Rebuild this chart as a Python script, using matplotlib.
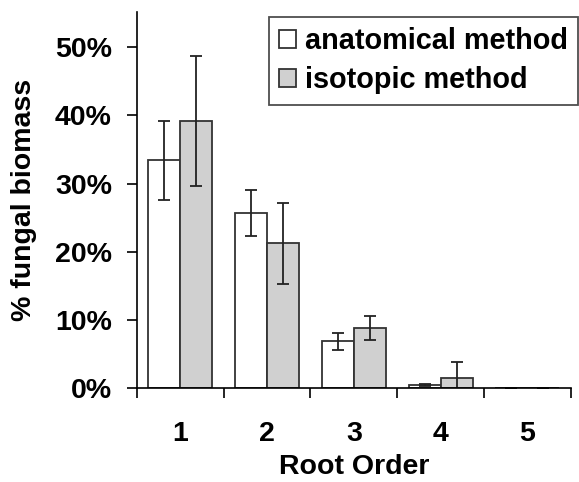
import matplotlib
matplotlib.use("Agg")
import matplotlib.pyplot as plt
import numpy as np
from matplotlib.ticker import FuncFormatter, FixedLocator

plt.rcParams['font.family'] = ['Liberation Sans', 'DejaVu Sans']
plt.rcParams['font.weight'] = 'bold'

# Data (percent fungal biomass by root order)
orders = ["1", "2", "3", "4", "5"]
anatomical = [33.4, 25.7, 6.8, 0.4, 0.0]
anatomical_err = [5.8, 3.4, 1.3, 0.2, 0.0]
isotopic = [39.2, 21.2, 8.75, 1.5, 0.0]
isotopic_err = [9.6, 6.0, 1.8, 2.3, 0.0]

fig = plt.figure(figsize=(5.79, 4.82), dpi=100)
ax = fig.add_axes([0.2366, 0.1956, 0.7491, 0.7794])

x = np.arange(len(orders))
w = 0.37
edge = '#333333'
ax.bar(x - w / 2, anatomical, w, color='white', edgecolor=edge, linewidth=1.3,
       label='anatomical method')
ax.bar(x + w / 2, isotopic, w, color='#d0d0d0', edgecolor=edge, linewidth=1.3,
       label='isotopic method')
ax.errorbar(x - w / 2, anatomical, yerr=anatomical_err, fmt='none', ecolor='#222222',
            elinewidth=1.3, capsize=4, capthick=1.3)
ax.errorbar(x + w / 2, isotopic, yerr=isotopic_err, fmt='none', ecolor='#222222',
            elinewidth=1.3, capsize=4, capthick=1.3)

ax.set_xlim(-0.5, len(orders) - 0.5)
ax.set_ylim(0, 55.2)
ax.set_yticks([0, 10, 20, 30, 40, 50])
ax.yaxis.set_major_formatter(FuncFormatter(lambda v, p: f"{v:.0f}%"))

ax.set_xticks(x)
ax.set_xticklabels(orders)
ax.xaxis.set_minor_locator(FixedLocator(np.arange(-0.5, len(orders), 1.0)))
ax.tick_params(axis='x', which='major', length=0, pad=24, labelsize=20.5)
ax.tick_params(axis='x', which='minor', length=7, width=1.2, direction='out')
ax.tick_params(axis='y', which='major', length=7, width=1.2, direction='out',
               pad=11, labelsize=20.5)

for s in ['top', 'right']:
    ax.spines[s].set_visible(False)
for s in ['left', 'bottom']:
    ax.spines[s].set_linewidth(1.2)

ax.set_xlabel("Root Order", fontsize=20.5, fontweight='bold', labelpad=5)
ax.set_ylabel("% fungal biomass", fontsize=20.5, fontweight='bold', labelpad=13)

leg = ax.legend(loc='upper right', bbox_to_anchor=(1.017, 0.9875), fontsize=20.8,
                frameon=True, fancybox=False, edgecolor='#222222',
                handlelength=0.6, handleheight=0.6, handletextpad=0.3,
                borderpad=0.35, labelspacing=0.4, borderaxespad=0)
leg.get_frame().set_linewidth(1.3)

fig.savefig("out.png", dpi=100)
